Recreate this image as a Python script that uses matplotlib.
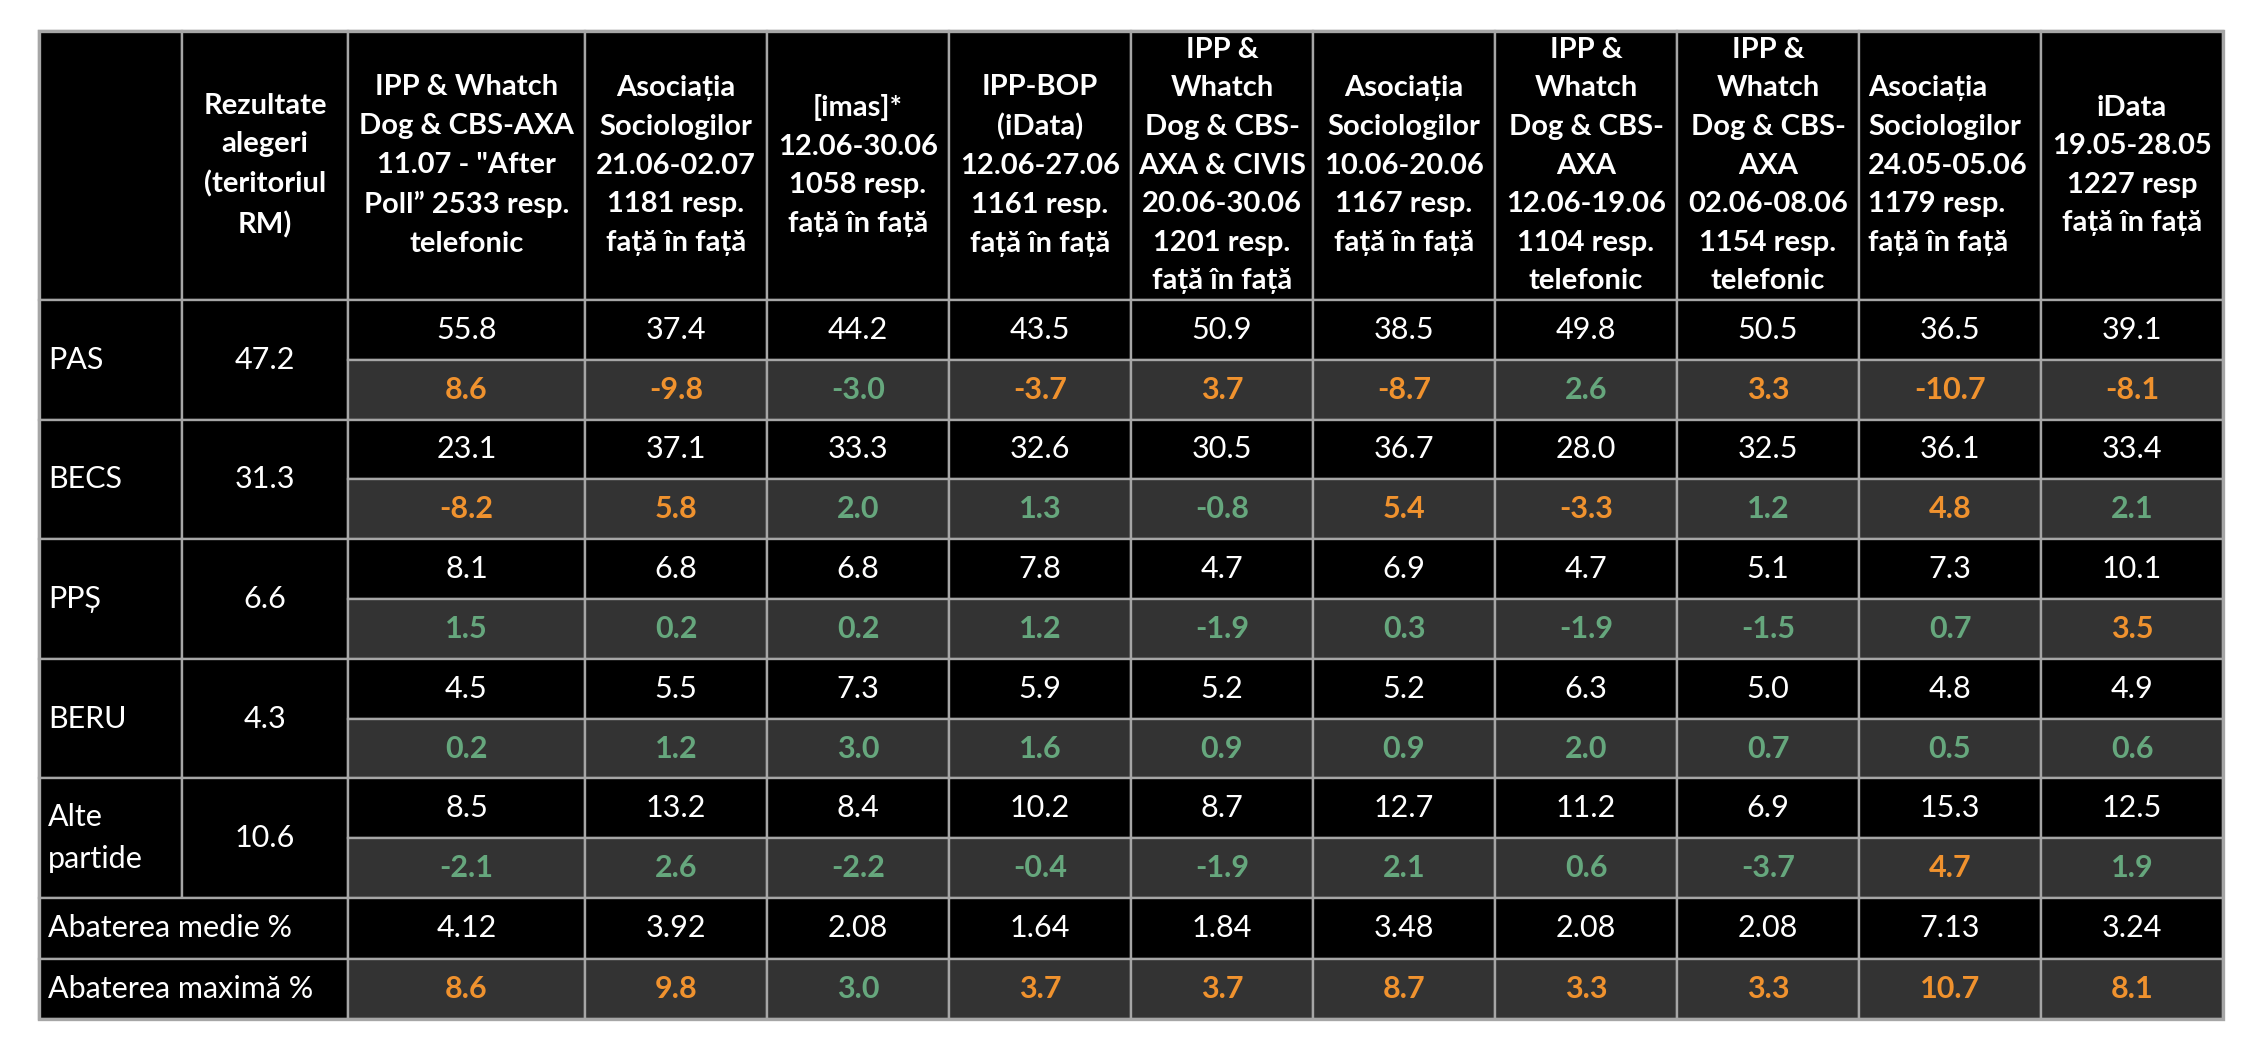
import matplotlib
matplotlib.use("Agg")
import matplotlib.pyplot as plt
from matplotlib.patches import Rectangle

# --- data ---
poll_headers = [
    'IPP & Whatch\nDog & CBS-AXA\n11.07 - "After\nPoll\u201d 2533 resp.\ntelefonic',
    'Asociația\nSociologilor\n21.06-02.07\n1181 resp.\nfață în față',
    '[imas]*\n12.06-30.06\n1058 resp.\nfață în față',
    'IPP-BOP\n(iData)\n12.06-27.06\n1161 resp.\nfață în față',
    'IPP &\nWhatch\nDog & CBS-\nAXA & CIVIS\n20.06-30.06\n1201 resp.\nfață în față',
    'Asociația\nSociologilor\n10.06-20.06\n1167 resp.\nfață în față',
    'IPP &\nWhatch\nDog & CBS-\nAXA\n12.06-19.06\n1104 resp.\ntelefonic',
    'IPP &\nWhatch\nDog & CBS-\nAXA\n02.06-08.06\n1154 resp.\ntelefonic',
    'Asociația\nSociologilor\n24.05-05.06\n1179 resp.\nfață în față',
    'iData\n19.05-28.05\n1227 resp\nfață în față',
]
results_header = 'Rezultate\nalegeri\n(teritoriul\nRM)'
parties = ['PAS', 'BECS', 'PPȘ', 'BERU', 'Alte\npartide']
election = [47.2, 31.3, 6.6, 4.3, 10.6]

pas_vals = [55.8, 37.4, 44.2, 43.5, 50.9, 38.5, 49.8, 50.5, 36.5, 39.1]
becs_vals = [23.1, 37.1, 33.3, 32.6, 30.5, 36.7, 28.0, 32.5, 36.1, 33.4]
pps_vals = [8.1, 6.8, 6.8, 7.8, 4.7, 6.9, 4.7, 5.1, 7.3, 10.1]
beru_vals = [4.5, 5.5, 7.3, 5.9, 5.2, 5.2, 6.3, 5.0, 4.8, 4.9]
alte_vals = [8.5, 13.2, 8.4, 10.2, 8.7, 12.7, 11.2, 6.9, 15.3, 12.5]

pas_diff = [8.6, -9.8, -3.0, -3.7, 3.7, -8.7, 2.6, 3.3, -10.7, -8.1]
becs_diff = [-8.2, 5.8, 2.0, 1.3, -0.8, 5.4, -3.3, 1.2, 4.8, 2.1]
pps_diff = [1.5, 0.2, 0.2, 1.2, -1.9, 0.3, -1.9, -1.5, 0.7, 3.5]
beru_diff = [0.2, 1.2, 3.0, 1.6, 0.9, 0.9, 2.0, 0.7, 0.5, 0.6]
alte_diff = [-2.1, 2.6, -2.2, -0.4, -1.9, 2.1, 0.6, -3.7, 4.7, 1.9]

# 1 = highlighted orange, 0 = green
pas_flag = [1, 1, 0, 1, 1, 1, 0, 1, 1, 1]
becs_flag = [1, 1, 0, 0, 0, 1, 1, 0, 1, 0]
pps_flag = [0, 0, 0, 0, 0, 0, 0, 0, 0, 1]
beru_flag = [0, 0, 0, 0, 0, 0, 0, 0, 0, 0]
alte_flag = [0, 0, 0, 0, 0, 0, 0, 0, 1, 0]

mean_dev = ['4.12', '3.92', '2.08', '1.64', '1.84', '3.48', '2.08', '2.08', '7.13', '3.24']
max_dev = [8.6, 9.8, 3.0, 3.7, 3.7, 8.7, 3.3, 3.3, 10.7, 8.1]
max_flag = [1, 1, 0, 1, 1, 1, 1, 1, 1, 1]

values = [pas_vals, becs_vals, pps_vals, beru_vals, alte_vals]
diffs = [pas_diff, becs_diff, pps_diff, beru_diff, alte_diff]
flags = [pas_flag, becs_flag, pps_flag, beru_flag, alte_flag]

# --- styling ---
BLACK = '#000000'
DARK = '#333333'
GRID = '#a6a6a6'
WHITE = '#ffffff'
ORANGE = '#f0922e'
GREEN = '#66a77d'
FONT = ['Lato', 'Open Sans', 'DejaVu Sans']
FS = 22
FS_HDR = 21

plt.rcParams['font.family'] = FONT

W, H = 2253, 1046
fig = plt.figure(figsize=(W / 100, H / 100), dpi=100)
ax = fig.add_axes([0, 0, 1, 1])
ax.set_xlim(0, W)
ax.set_ylim(H, 0)
ax.axis('off')

# layout (pixels)
x0, y0 = 39, 31
col_widths = [143, 166, 237] + [182] * 9
col_edges = [x0]
for w in col_widths:
    col_edges.append(col_edges[-1] + w)
header_h = 269
sub_h = 59.8
sum_h = 60.5
pad = 9


def cell(c0, c1, top, h, color):
    ax.add_patch(Rectangle((col_edges[c0], top), col_edges[c1] - col_edges[c0], h,
                           facecolor=color, edgecolor=GRID, linewidth=1.7))


def put(c0, c1, top, h, s, color=WHITE, bold=False, left=False, ls=1.2, fs=FS):
    cy = top + h / 2
    if left:
        x, ha = col_edges[c0] + pad, 'left'
    else:
        x, ha = (col_edges[c0] + col_edges[c1]) / 2, 'center'
    ax.text(x, cy, s, color=color, fontsize=fs, ha=ha, va='center',
            fontweight='bold' if bold else 'normal', linespacing=ls,
            multialignment=ha)


# header
cell(0, 1, y0, header_h, BLACK)
cell(1, 2, y0, header_h, BLACK)
put(1, 2, y0, header_h, results_header, bold=True, ls=1.6, fs=FS_HDR)
for i, hdr in enumerate(poll_headers):
    cell(i + 2, i + 3, y0, header_h, BLACK)
    put(i + 2, i + 3, y0, header_h, hdr, bold=True, ls=1.6, fs=FS_HDR,
        left=(i == 8))

# party rows
top = y0 + header_h
for p, name in enumerate(parties):
    cell(0, 1, top, 2 * sub_h, BLACK)
    put(0, 1, top, 2 * sub_h, name, left=True, ls=1.6)
    cell(1, 2, top, 2 * sub_h, BLACK)
    put(1, 2, top, 2 * sub_h, f'{election[p]:.1f}')
    for i in range(len(poll_headers)):
        cell(i + 2, i + 3, top, sub_h, BLACK)
        put(i + 2, i + 3, top, sub_h, f'{values[p][i]:.1f}')
        cell(i + 2, i + 3, top + sub_h, sub_h, DARK)
        put(i + 2, i + 3, top + sub_h, sub_h, f'{diffs[p][i]:.1f}',
            color=ORANGE if flags[p][i] else GREEN, bold=True)
    top += 2 * sub_h

# summary rows
cell(0, 2, top, sum_h, BLACK)
put(0, 2, top, sum_h, 'Abaterea medie %', left=True)
for i, v in enumerate(mean_dev):
    cell(i + 2, i + 3, top, sum_h, BLACK)
    put(i + 2, i + 3, top, sum_h, v)
top += sum_h
cell(0, 2, top, sum_h, BLACK)
put(0, 2, top, sum_h, 'Abaterea maximă %', left=True)
for i, v in enumerate(max_dev):
    cell(i + 2, i + 3, top, sum_h, DARK)
    put(i + 2, i + 3, top, sum_h, f'{v:.1f}',
        color=ORANGE if max_flag[i] else GREEN, bold=True)
top += sum_h

# outer border
ax.add_patch(Rectangle((col_edges[0], y0), col_edges[-1] - col_edges[0], top - y0,
                       facecolor='none', edgecolor=GRID, linewidth=2.4))

fig.savefig('out.png', dpi=100, facecolor='white')
